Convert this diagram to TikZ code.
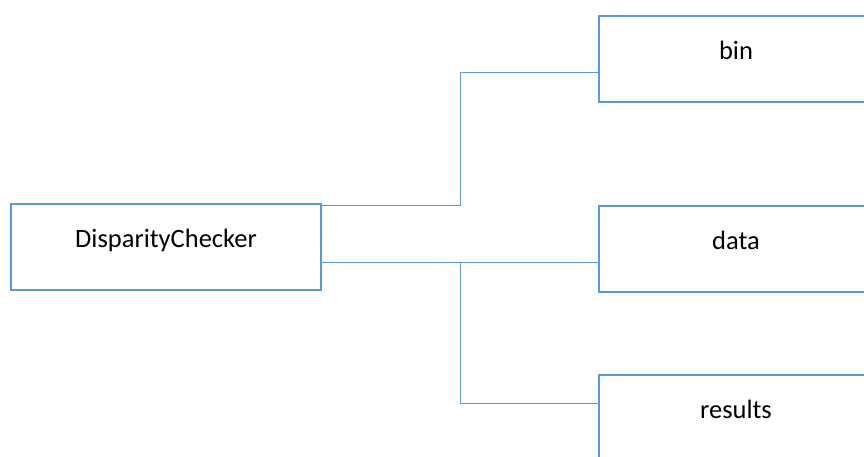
\documentclass[tikz,border=0pt]{standalone}
\usepackage{fontspec}
\setmainfont{Carlito}
\definecolor{wordblue}{HTML}{5B9BD5}
\begin{document}
\begin{tikzpicture}[x=1pt,y=-1pt,
  box/.style={draw=wordblue, line width=2.4pt, minimum width=274pt, minimum height=86pt,
    inner sep=0pt, text height=15pt, text depth=15pt, font=\fontsize{26.5}{30}\selectfont},
  conn/.style={draw=wordblue, line width=0.9pt}]
\clip (0,0) rectangle (864,456);
\fill[white] (0,0) rectangle (864,456);
\node[box, minimum width=310pt] (dc) at (166,247) {DisparityChecker};
\node[box] (bin) at (736,59) {bin};
\node[box] (data) at (736,249) {data};
\node[box] (results) at (736,418) {results};
\coordinate (b1) at (460,205);
\coordinate (b2) at (460,72);
\coordinate (m) at (460,262);
\coordinate (r1) at (460,403);
\draw[conn] (dc.east |- b1) -- (b1) -- (b2) -- (bin.west |- b2);
\draw[conn] (dc.east |- m) -- (data.west |- m);
\draw[conn] (m) -- (r1) -- (results.west |- r1);
\end{tikzpicture}
\end{document}
